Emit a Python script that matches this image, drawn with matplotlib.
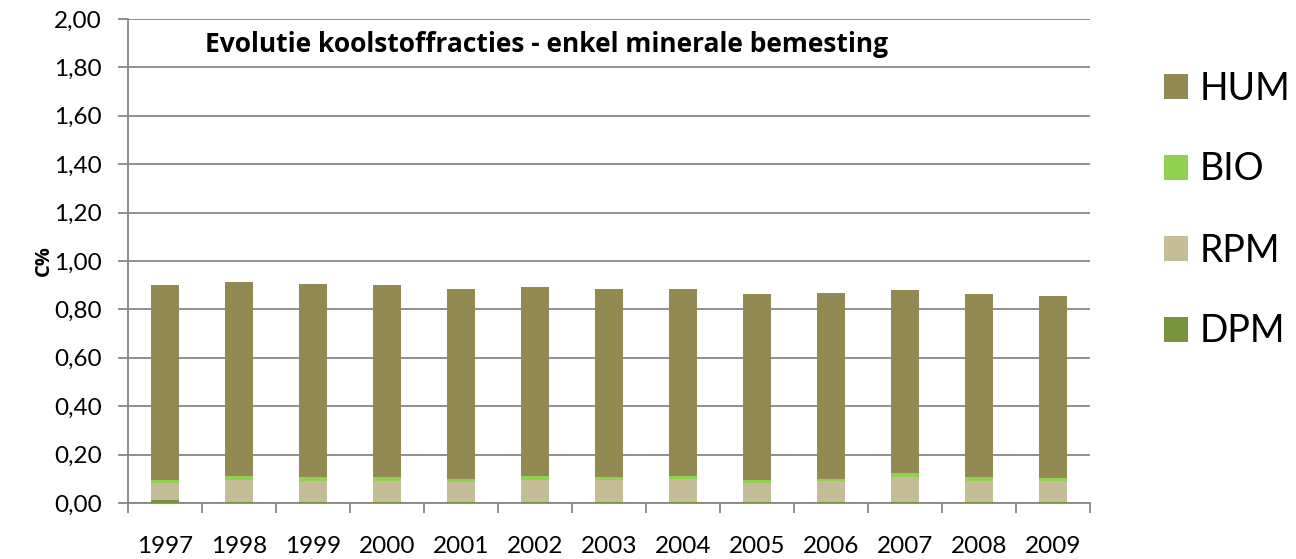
import matplotlib
matplotlib.use("Agg")
import matplotlib.pyplot as plt
import numpy as np

years = ["1997", "1998", "1999", "2000", "2001", "2002", "2003",
         "2004", "2005", "2006", "2007", "2008", "2009"]
dpm = [0.011, 0.006, 0.003, 0.003, 0.003, 0.003, 0.003, 0.003, 0.003, 0.003, 0.006, 0.003, 0.003]
rpm = [0.072, 0.089, 0.088, 0.088, 0.084, 0.094, 0.091, 0.097, 0.080, 0.086, 0.102, 0.088, 0.087]
bio = [0.013, 0.015, 0.017, 0.017, 0.013, 0.015, 0.014, 0.012, 0.013, 0.012, 0.014, 0.017, 0.014]
totals = [0.90, 0.912, 0.905, 0.90, 0.886, 0.892, 0.886, 0.885, 0.862, 0.866, 0.882, 0.862, 0.857]
hum = [t - d - r - b for t, d, r, b in zip(totals, dpm, rpm, bio)]

yticks = np.arange(0, 2.01, 0.2)
ytick_labels = [f"{v:.2f}".replace(".", ",") for v in yticks]

COLORS = {"DPM": "#77933C", "RPM": "#C4BD97", "BIO": "#92D050", "HUM": "#938953"}
GRID = "#878787"
FONT = "Lato"
BOLD_FONT = "Open Sans"

fig = plt.figure(figsize=(12.96, 5.59), dpi=100)
ax = fig.add_axes([128 / 1296, 56 / 559, 962 / 1296, 484 / 559])

x = np.arange(len(years))
w = 0.39
bottom = np.zeros(len(years))
handles = {}
for name, vals in [("DPM", dpm), ("RPM", rpm), ("BIO", bio), ("HUM", hum)]:
    handles[name] = ax.bar(x, vals, w, bottom=bottom, color=COLORS[name], zorder=3,
                           edgecolor="none")
    bottom += np.array(vals)

ax.set_xlim(-0.5, len(years) - 0.5)
ax.set_ylim(0, 2.0)
ax.set_yticks(yticks)
ax.set_yticklabels(ytick_labels, fontsize=17.5, family=FONT)
ax.yaxis.grid(True, color=GRID, linewidth=1.3, zorder=0)
ax.set_axisbelow(True)

ax.set_xticks(x)
ax.set_xticklabels(years, fontsize=17.5, family=FONT)
ax.set_xticks(np.arange(-0.5, len(years)), minor=True)
ax.tick_params(axis="x", which="major", length=0, pad=24)
ax.tick_params(axis="x", which="minor", length=7, width=1.3, color=GRID)
ax.tick_params(axis="y", length=7, width=1.3, color=GRID, pad=12)

for side in ["top", "right"]:
    ax.spines[side].set_visible(False)
for side in ["left", "bottom"]:
    ax.spines[side].set_color(GRID)
    ax.spines[side].set_linewidth(1.3)

ax.set_ylabel("C%", fontsize=14.5, fontweight="bold", family=BOLD_FONT, labelpad=0)
ax.text(0.08, 0.948, "Evolutie koolstoffracties - enkel minerale bemesting",
        transform=ax.transAxes, fontsize=19, fontweight="bold", family=BOLD_FONT,
        ha="left", va="center")

order = ["HUM", "BIO", "RPM", "DPM"]
fig.legend([handles[n] for n in order], order, loc="center left",
           bbox_to_anchor=(1164 / 1296, 1 - 210 / 559), frameon=False,
           prop={"family": FONT, "size": 27}, handlelength=0.65, handleheight=0.65,
           labelspacing=1.2, handletextpad=0.3, borderpad=0, borderaxespad=0)

fig.savefig("out.png", dpi=100)
